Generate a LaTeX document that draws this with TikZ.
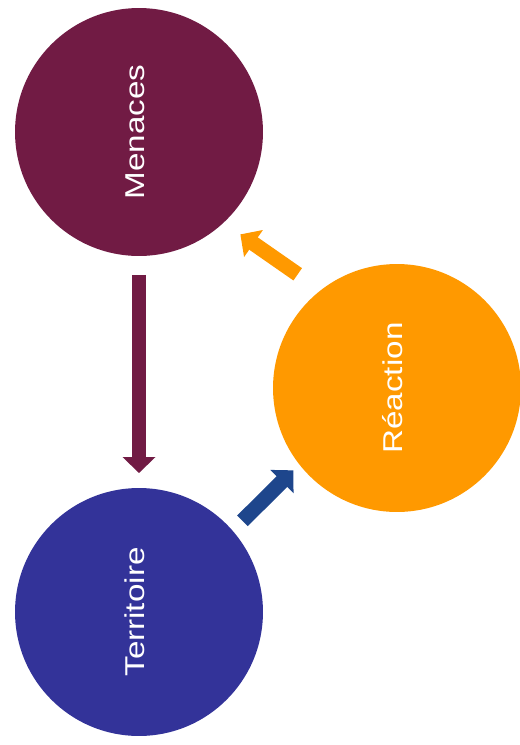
\documentclass[tikz,border=0pt]{standalone}
\usepackage{fontspec}
\setmainfont{Liberation Sans}
\usetikzlibrary{positioning, arrows.meta}
\definecolor{menacecol}{RGB}{113,27,68}
\definecolor{terrcol}{RGB}{51,51,153}
\definecolor{reaccol}{RGB}{255,153,0}
\definecolor{flowblue}{RGB}{30,70,140}
\newcommand{\bubbletext}[1]{\kern-0.16cm\rotatebox{90}{\scalebox{1.22}[1]{#1}}}

\begin{document}
\begin{tikzpicture}[x=0.02cm, y=-0.02cm,
  font=\fontsize{15.5}{18}\selectfont,
  bubble/.style={circle, minimum size=4.96cm, inner sep=0pt, outer sep=0pt, text=white},
  flow/.style={line width=0.3cm, -{Triangle[length=0.32cm, width=0.64cm]}}]
  \useasboundingbox (0,0) rectangle (520,745);
  \node[bubble, fill=menacecol] (men) at (139,132) {\bubbletext{Menaces}};
  \node[bubble, fill=terrcol] (ter) at (139,612) {\bubbletext{Territoire}};
  \node[bubble, fill=reaccol] (rea) at (397,388) {\bubbletext{Réaction}};
  % cycle
  \draw[flow, menacecol, shorten <=0.38cm, shorten >=0.3cm] (men.south) -- (ter.north);
  \draw[flow, flowblue, shorten <=0.28cm, shorten >=0.17cm] (ter.41) -- (rea.218);
  \draw[flow, reaccol, shorten <=0.56cm, shorten >=0.41cm] (rea.128) -- (men.313);
\end{tikzpicture}
\end{document}
